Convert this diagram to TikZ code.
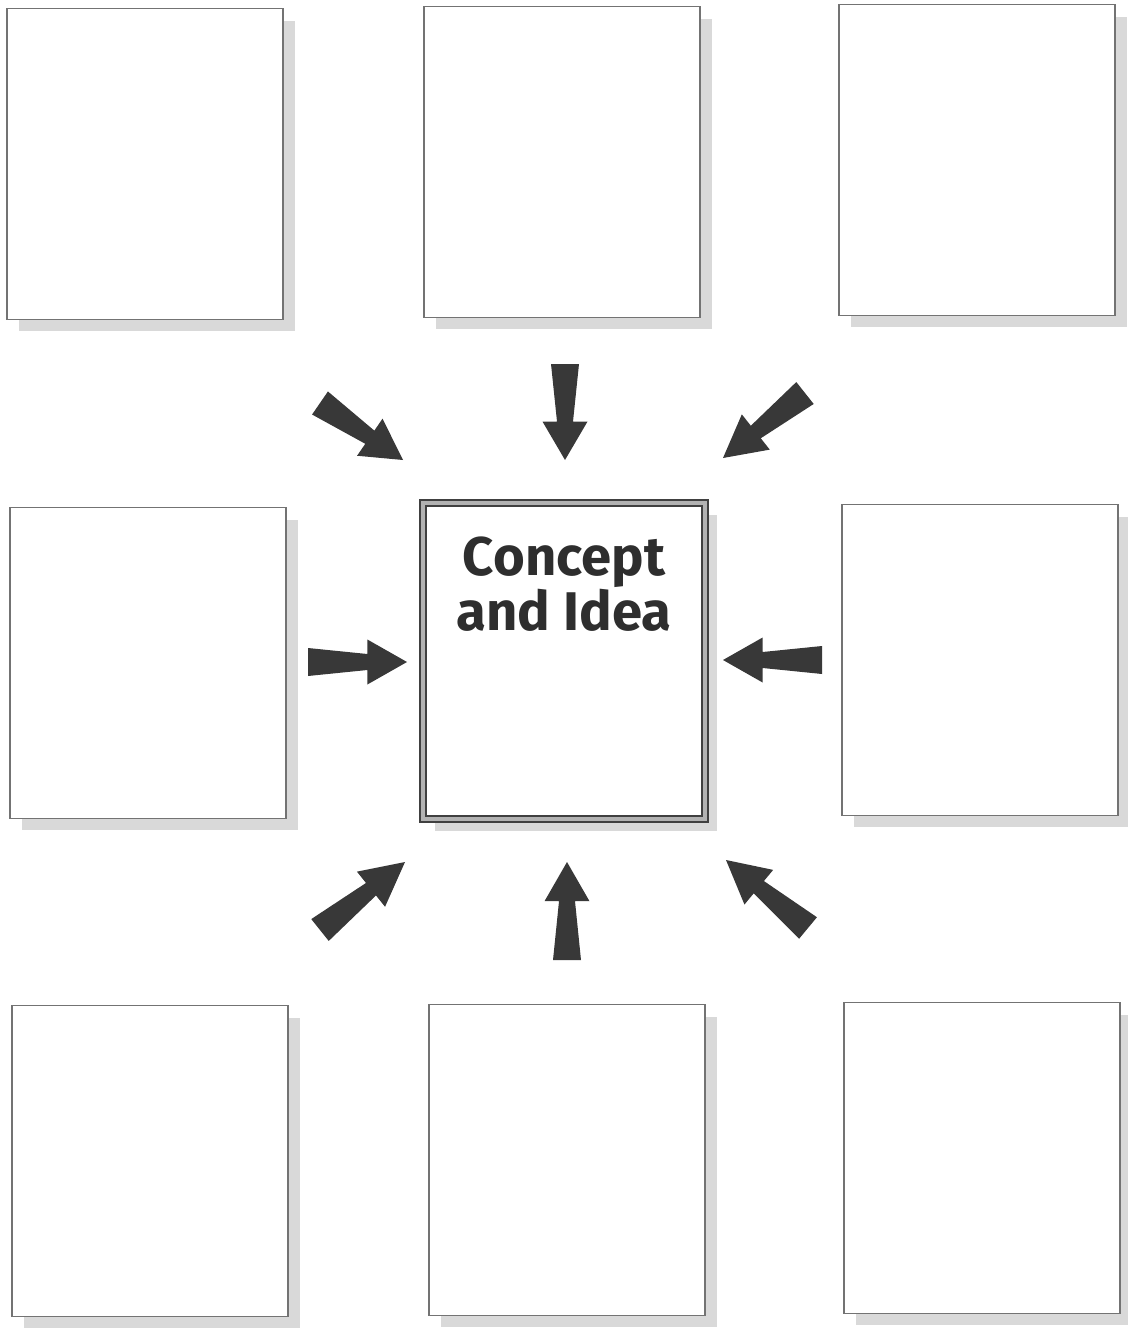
\documentclass[tikz,border=0pt]{standalone}
\usepackage{fontspec}
\newfontfamily\conceptfont{Fira Sans}
\usetikzlibrary{calc,shadows}
\tikzset{
    card/.style={draw=black!55, line width=0.8pt, fill=white, minimum width=5.52cm, minimum height=6.22cm,
        drop shadow={shadow xshift=0.24cm, shadow yshift=-0.24cm, fill=black!15, opacity=1}},
    conceptcard/.style={card, draw=black!75, double=black!30, double distance=1.8pt, line width=1.3pt,
        minimum width=5.64cm, minimum height=6.32cm},
    arrowfill/.style={fill=black!78}
}
% block arrow from tail to tip
\newcommand{\ideaarrow}[2]{%
    \fill[arrowfill] ($(#1)!0.28cm!90:(#2)$) -- ($($(#1)!0.6!(#2)$)!0.16cm!90:(#2)$)
        -- ($($(#1)!0.6!(#2)$)!0.45cm!90:(#2)$) -- (#2)
        -- ($($(#1)!0.6!(#2)$)!0.45cm!-90:(#2)$) -- ($($(#1)!0.6!(#2)$)!0.16cm!-90:(#2)$)
        -- ($(#1)!0.28cm!-90:(#2)$) -- cycle;}
\begin{document}
\begin{tikzpicture}[x=0.02cm, y=-0.02cm]
        \useasboundingbox (0,0) rectangle (1127,1328);
        \node[card] (tl) at (145,164) {};
        \node[card] (tm) at (562,162) {};
        \node[card] (tr) at (977,160) {};
        \node[card] (ml) at (148,663) {};
        \node[conceptcard] (concept) at (564,661) {};
        \node[card] (mr) at (980,660) {};
        \node[card] (bl) at (150,1161) {};
        \node[card] (bm) at (567,1160) {};
        \node[card] (br) at (982,1158) {};
        \node[anchor=north, align=center, text=black!82, font=\conceptfont\bfseries\fontsize{31}{31}\selectfont]
            (title) at ([yshift=-0.58cm]concept.north) {Concept\\and Idea};
        % arrows into the concept box
        \coordinate (nw-tail) at (320,403);  \coordinate (nw-tip) at (403,460);
        \coordinate (n-tail) at (565,364);   \coordinate (n-tip) at (565,460);
        \coordinate (ne-tail) at (805,393);  \coordinate (ne-tip) at (723,458);
        \coordinate (w-tail) at (308,662);   \coordinate (w-tip) at (407,662);
        \coordinate (e-tail) at (822,660);   \coordinate (e-tip) at (723,660);
        \coordinate (sw-tail) at (320,930);  \coordinate (sw-tip) at (405,862);
        \coordinate (s-tail) at (567,960);   \coordinate (s-tip) at (567,862);
        \coordinate (se-tail) at (808,928);  \coordinate (se-tip) at (726,860);
        \foreach \d in {nw,n,ne,w,e,sw,s,se}
            \ideaarrow{\d-tail}{\d-tip};
    \end{tikzpicture}
\end{document}
